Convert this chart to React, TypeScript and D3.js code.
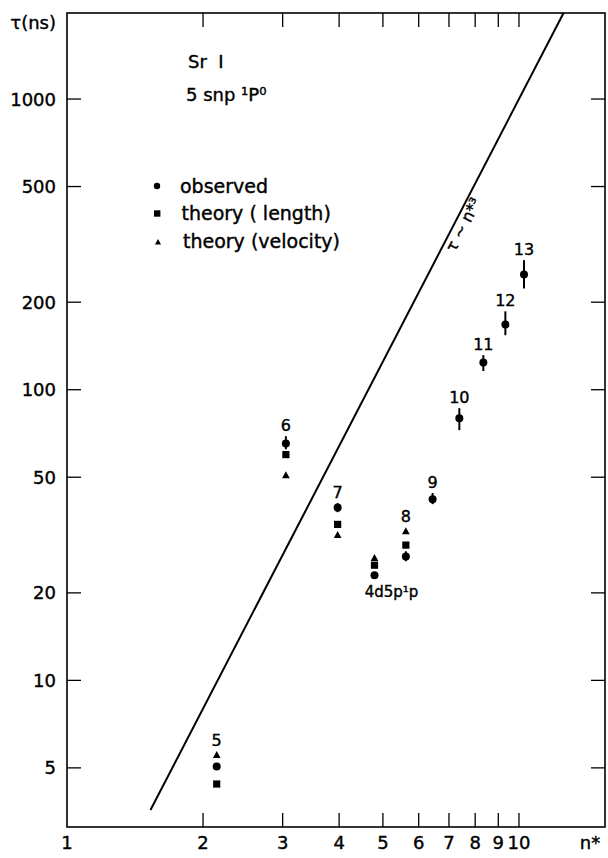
import React from "react";
import * as d3 from "d3";

// ---- data ----
const obsN = [2.144, 3.05, 3.97, 4.79, 5.62, 6.44, 7.38, 8.34, 9.33, 10.26];
const obsLabels = ["5", "6", "7", "", "8", "9", "10", "11", "12", "13"];
const obsTau = [5.05, 65.3, 39.3, 23.0, 26.7, 42.0, 79.8, 124, 167.7, 249];
const obsErrLow = [null, 62.4, 37.9, null, 25.7, 40.4, 72.6, 116, 154, 223];
const obsErrHigh = [null, 69.2, 40.7, null, 27.8, 44.1, 86.4, 131.5, 186, 279];

const thN = [2.144, 3.05, 3.97, 4.79, 5.62];
const thLength = [4.4, 59.8, 34.4, 24.9, 29.2];
const thVelocity = [5.54, 50.8, 31.7, 26.4, 32.6];

const specialLabel = "4d5p¹p";
const specialIndex = 3;

const lawN = [1.53, 12.55];
const lawTau = [3.58, 1977];

const xTicks = [2, 3, 4, 5, 6, 7, 8, 9, 10];
const xTickLabels = [1, 2, 3, 4, 5, 6, 7, 8, 9, 10];
const yTicks = [5, 10, 20, 50, 100, 200, 500, 1000];

const legendItems = ["observed", "theory ( length)", "theory (velocity)"];

// ---- layout ----
const W = 608;
const H = 858;
const L = 67, R = 605, T = 13, B = 827;
const FONT = "'DejaVu Sans', sans-serif";

const x = d3.scaleLog().domain([1, 15.5]).range([L, R]);
const y = d3.scaleLog().domain([3.13, 1977]).range([B, T]);

function Tri({ cx, cy, s }: { cx: number; cy: number; s: number }) {
  const p = d3.path();
  p.moveTo(cx, cy - s * 0.55);
  p.lineTo(cx + s * 0.55, cy + s * 0.45);
  p.lineTo(cx - s * 0.55, cy + s * 0.45);
  p.closePath();
  return <path d={p.toString()} fill="#000" />;
}

export default function App() {
  const tick = 14;
  const line = d3
    .line<number>()
    .x((_, i) => x(lawN[i]))
    .y((d) => y(d));
  const ang =
    (Math.atan2(y(lawTau[1]) - y(lawTau[0]), x(lawN[1]) - x(lawN[0])) * 180) /
    Math.PI;
  const labN = 7.25;
  const labPx = x(labN);
  const labPy = y(Math.pow(labN, 3));
  const ts = { stroke: "#000", strokeWidth: 0.4 };

  return (
    <svg
      width={W}
      height={H}
      style={{ position: "absolute", left: 0, top: 0, background: "#fff" }}
      fontFamily={FONT}
    >
      <rect x={0} y={0} width={W} height={H} fill="#fff" />
      {/* frame */}
      <rect x={L} y={T} width={R - L} height={B - T} fill="none" stroke="#000" strokeWidth={1.6} />

      {/* x ticks */}
      {xTicks.map((t) => (
        <g key={"xt" + t}>
          <line x1={x(t)} x2={x(t)} y1={B} y2={B - tick} stroke="#000" strokeWidth={1.3} />
          <line x1={x(t)} x2={x(t)} y1={T} y2={T + tick} stroke="#000" strokeWidth={1.3} />
        </g>
      ))}
      {xTickLabels.map((t) => (
        <text key={"xl" + t} x={x(t)} y={849} fontSize={18} textAnchor="middle" fill="#000" {...ts}>
          {t}
        </text>
      ))}
      <text x={590} y={849} fontSize={18} textAnchor="middle" fill="#000" {...ts}>
        n*
      </text>

      {/* y ticks */}
      {yTicks.map((t) => (
        <g key={"yt" + t}>
          <line x1={L} x2={L + tick} y1={y(t)} y2={y(t)} stroke="#000" strokeWidth={1.3} />
          <line x1={R} x2={R - tick} y1={y(t)} y2={y(t)} stroke="#000" strokeWidth={1.3} />
          <text x={56} y={y(t) + 6.5} fontSize={18} textAnchor="end" fill="#000" {...ts}>
            {t}
          </text>
        </g>
      ))}
      <text x={56} y={29} fontSize={18} textAnchor="end" fill="#000" {...ts}>
        τ(ns)
      </text>

      {/* title */}
      <text x={188} y={68} fontSize={18} fill="#000" {...ts}>
        Sr&#160;&#160;I
      </text>
      <text x={186} y={101} fontSize={18} fill="#000" {...ts}>
        5 snp ¹P⁰
      </text>

      {/* legend */}
      {legendItems.map((s, i) => {
        const ly = 186 + i * 27.5;
        return (
          <g key={"lg" + i}>
            {i === 0 && <circle cx={157} cy={ly} r={3.2} fill="#000" />}
            {i === 1 && <rect x={154} y={ly - 3.2} width={6.4} height={6.4} fill="#000" />}
            {i === 2 && <Tri cx={158} cy={ly + 1} s={5.5} />}
            <text x={180 + i * 1.5} y={ly + 6.5} fontSize={19} fill="#000" {...ts}>
              {s}
            </text>
          </g>
        );
      })}

      {/* law line */}
      <path d={line(lawTau) || ""} fill="none" stroke="#000" strokeWidth={2} />
      <g transform={`translate(${labPx},${labPy}) rotate(${ang})`}>
        <text x={0} y={14} fontSize={16} textAnchor="middle" fill="#000" {...ts}>
          τ ~ n*³
        </text>
      </g>

      {/* theory points */}
      {thN.map((n, i) => (
        <g key={"th" + i}>
          <rect x={x(n) - 3.6} y={y(thLength[i]) - 3.6} width={7.2} height={7.2} fill="#000" />
          <Tri cx={x(n)} cy={y(thVelocity[i])} s={7} />
        </g>
      ))}

      {/* observed */}
      {obsN.map((n, i) => {
        const cx = x(n);
        const cy = y(obsTau[i]);
        const lo = obsErrLow[i];
        const hi = obsErrHigh[i];
        let top = cy - 4;
        if (hi != null) top = Math.min(top, y(hi));
        if (i < thN.length) {
          top = Math.min(top, y(thLength[i]) - 4, y(thVelocity[i]) - 4);
        }
        return (
          <g key={"ob" + i}>
            {lo != null && hi != null && (
              <line x1={cx} x2={cx} y1={y(lo)} y2={y(hi)} stroke="#000" strokeWidth={2} />
            )}
            <circle cx={cx} cy={cy} r={4} fill="#000" />
            {obsLabels[i] && (
              <text x={cx} y={top - 5} fontSize={16} textAnchor="middle" fill="#000" {...ts}>
                {obsLabels[i]}
              </text>
            )}
            {i === specialIndex && (
              <text x={cx + 17} y={cy + 22} fontSize={15} textAnchor="middle" fill="#000" {...ts}>
                {specialLabel}
              </text>
            )}
          </g>
        );
      })}
    </svg>
  );
}
